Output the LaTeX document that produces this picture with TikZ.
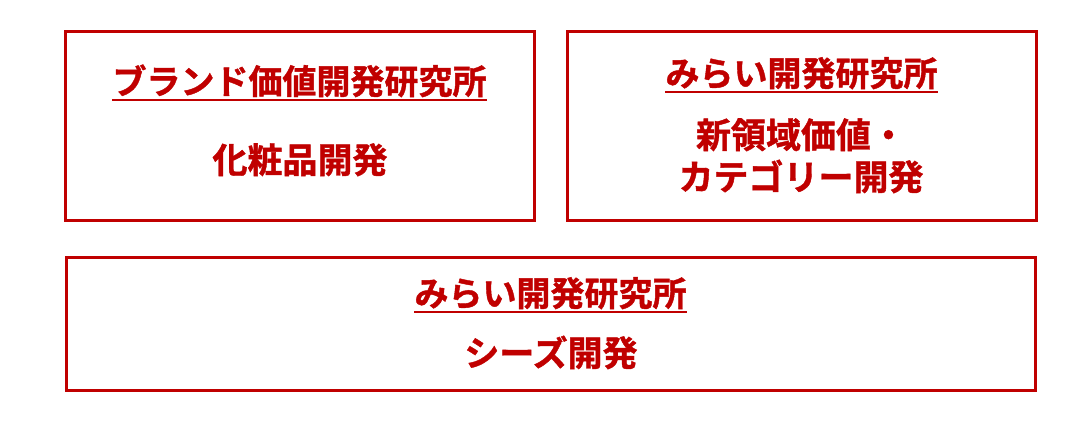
\documentclass[tikz,border=0pt]{standalone}
\usepackage{fontspec}
\newfontfamily\cjk{Noto Sans CJK JP Bold}[FakeBold=1.2]
\definecolor{dred}{RGB}{192,0,0}
\tikzset{
  panel/.style={draw=dred, line width=3pt},
  ttl/.style={anchor=base, inner sep=0pt, text=dred, font=\cjk\fontsize{34}{40}\selectfont},
  body/.style={anchor=base, inner sep=0pt, text=dred, font=\cjk\fontsize{35}{41}\selectfont},
  ul/.style={draw=dred, line width=2.4pt}
}
\begin{document}
\begin{tikzpicture}[x=1pt,y=-1pt]
\useasboundingbox (0,0) rectangle (1080,433);
\draw[panel] (65,32) rectangle (534,221);
\draw[panel] (567,32) rectangle (1036,221);
\draw[panel] (66,257) rectangle (1035,390);
\node[ttl] (t1) at (299.5,94) {ブランド価値開発研究所};
\node[body] (b1) at (300,173) {化粧品開発};
\node[ttl] (t2) at (801.5,86) {みらい開発研究所};
\node[body] (b2a) at (801,148) {新領域価値・};
\node[body] (b2b) at (801,190) {カテゴリー開発};
\node[ttl] (t3) at (550.5,306) {みらい開発研究所};
\node[body] (b3) at (551,366) {シーズ開発};
\draw[ul] ([yshift=-6pt]t1.base west) -- ([yshift=-6pt]t1.base east);
\draw[ul] ([yshift=-6pt]t2.base west) -- ([yshift=-6pt]t2.base east);
\draw[ul] ([yshift=-6pt]t3.base west) -- ([yshift=-6pt]t3.base east);
\end{tikzpicture}
\end{document}
